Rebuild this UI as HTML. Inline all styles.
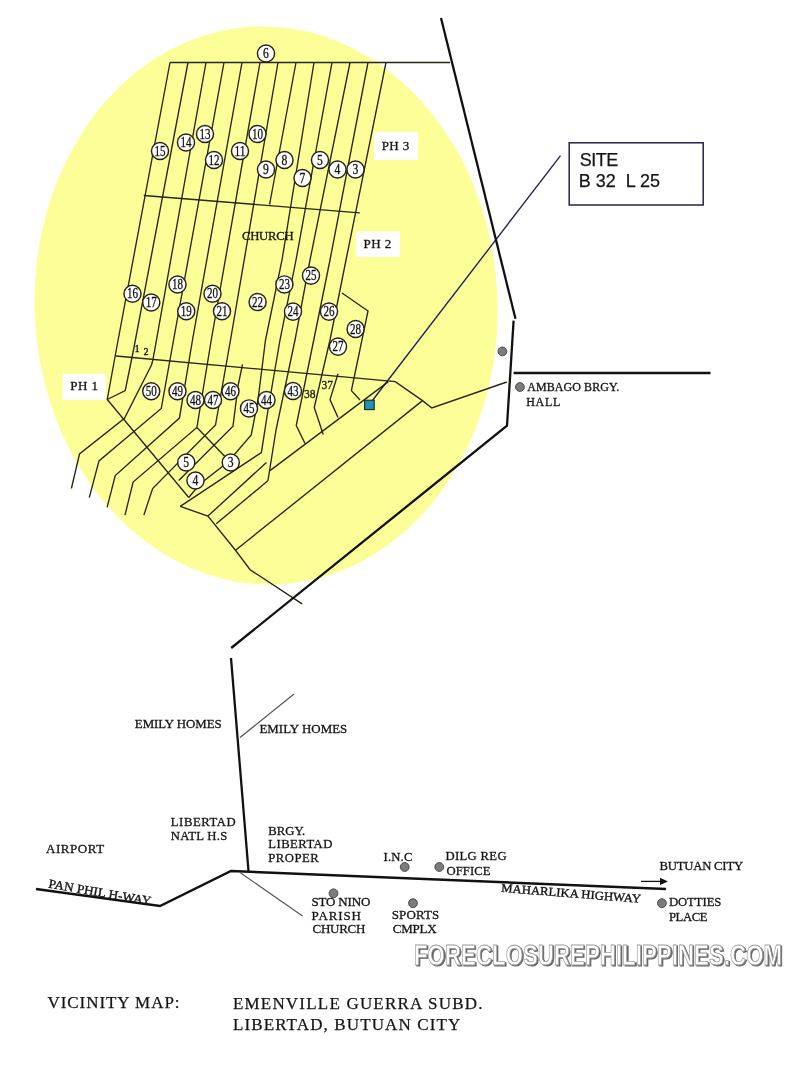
<!DOCTYPE html><html><head><meta charset="utf-8"><style>html,body{margin:0;padding:0;background:#fff;}svg{display:block;will-change:transform;}text{font-family:"Liberation Serif",serif;}</style></head><body>
<svg width="800" height="1067" viewBox="0 0 800 1067">
<rect width="800" height="1067" fill="#fff"/>
<ellipse cx="266.14" cy="305.5" rx="231.5" ry="279.15" transform="rotate(-2.3 266.14 305.5)" fill="#fcfe98"/>
<rect x="374" y="132" width="44" height="28" fill="#fff"/>
<rect x="356" y="231.5" width="44" height="25.5" fill="#fff"/>
<rect x="62.5" y="373.75" width="43.5" height="26.25" fill="#fff"/>
<polyline points="170,62.5 450,62.5" fill="none" stroke="#27260f" stroke-width="1.35" stroke-linejoin="miter"/>
<polyline points="143.75,195.5 359.75,212.9" fill="none" stroke="#27260f" stroke-width="1.35" stroke-linejoin="miter"/>
<polyline points="116,356 395.25,381.6 422.5,400.6 431.8,408 506.8,382" fill="none" stroke="#27260f" stroke-width="1.35" stroke-linejoin="miter"/>
<polyline points="170,62.5 116.25,350 107.25,399.5 188.75,497.5" fill="none" stroke="#27260f" stroke-width="1.35" stroke-linejoin="miter"/>
<polyline points="188,62.5 133.5,350 125.25,390.5 107.25,399.5" fill="none" stroke="#27260f" stroke-width="1.35" stroke-linejoin="miter"/>
<polyline points="206,62.5 153,359.3 151.5,365 124.5,418.25 79.5,454 71.4,488.5" fill="none" stroke="#27260f" stroke-width="1.35" stroke-linejoin="miter"/>
<polyline points="224,62.5 171.75,350 161.25,408.5 99,460.9 89.25,497.6" fill="none" stroke="#27260f" stroke-width="1.35" stroke-linejoin="miter"/>
<polyline points="242,62.5 192.5,340 179.4,418.1 115.25,475.5 107.1,507.3" fill="none" stroke="#27260f" stroke-width="1.35" stroke-linejoin="miter"/>
<polyline points="260,62.5 211.25,340 196.9,427.5 133.1,482 125,515.1" fill="none" stroke="#27260f" stroke-width="1.35" stroke-linejoin="miter"/>
<polyline points="196.9,427.5 230.75,462.5" fill="none" stroke="#27260f" stroke-width="1.35" stroke-linejoin="miter"/>
<polyline points="278,62.5 230.5,340 215.5,425 152.6,488.5 143.85,515.1" fill="none" stroke="#27260f" stroke-width="1.35" stroke-linejoin="miter"/>
<polyline points="296,62.5 269.6,204.5" fill="none" stroke="#27260f" stroke-width="1.35" stroke-linejoin="miter"/>
<polyline points="242.5,364.4 238,386 233,426.25 178.75,480.6" fill="none" stroke="#27260f" stroke-width="1.35" stroke-linejoin="miter"/>
<polyline points="314,62.5 282,260 265.5,340 258,400 251.25,435 228,462 200,484 188.75,497.5" fill="none" stroke="#27260f" stroke-width="1.35" stroke-linejoin="miter"/>
<polyline points="332,62.5 296,260 280,340 268,410 261.4,452.5 180.25,506.4" fill="none" stroke="#27260f" stroke-width="1.35" stroke-linejoin="miter"/>
<polyline points="350,62.5 310,260 295,340 276,430 268,480.5" fill="none" stroke="#27260f" stroke-width="1.35" stroke-linejoin="miter"/>
<polyline points="368,62.5 330,260 313.75,340 296.25,425.5 305,443.5" fill="none" stroke="#27260f" stroke-width="1.35" stroke-linejoin="miter"/>
<polyline points="386,62.5 346,260 330,340 314.25,407.5 323.25,434.5" fill="none" stroke="#27260f" stroke-width="1.35" stroke-linejoin="miter"/>
<polyline points="338,373.75 330,399.6 338,417.6" fill="none" stroke="#27260f" stroke-width="1.35" stroke-linejoin="miter"/>
<polyline points="342,293 368,311 351.4,390.6 360,400" fill="none" stroke="#27260f" stroke-width="1.35" stroke-linejoin="miter"/>
<polyline points="216.25,523.75 268.1,480.6" fill="none" stroke="#27260f" stroke-width="1.35" stroke-linejoin="miter"/>
<polyline points="270,470.6 388.1,381.9" fill="none" stroke="#27260f" stroke-width="1.35" stroke-linejoin="miter"/>
<polyline points="235.5,550.25 422.5,400.6" fill="none" stroke="#27260f" stroke-width="1.35" stroke-linejoin="miter"/>
<polyline points="266.4,462.5 207.9,516.1" fill="none" stroke="#27260f" stroke-width="1.35" stroke-linejoin="miter"/>
<polyline points="180.25,506.4 207.9,516.1 235.5,550.25 250.1,569.75 302.1,603.9" fill="none" stroke="#27260f" stroke-width="1.35" stroke-linejoin="miter"/>
<polyline points="560.5,155.6 370.5,403" fill="none" stroke="#1e1e50" stroke-width="1.35" stroke-linejoin="miter"/>
<polyline points="441,18 515.5,318.7" fill="none" stroke="#111" stroke-width="2.3" stroke-linejoin="miter"/>
<polyline points="513.6,320.6 507,425.7 231.2,648" fill="none" stroke="#111" stroke-width="2.3" stroke-linejoin="miter"/>
<polyline points="231,658 248.5,871" fill="none" stroke="#111" stroke-width="2.3" stroke-linejoin="miter"/>
<polyline points="36,889 160,906 231,871 666,889" fill="none" stroke="#111" stroke-width="2.4" stroke-linejoin="miter"/>
<polyline points="513.6,373 710.5,373" fill="none" stroke="#111" stroke-width="2.3" stroke-linejoin="miter"/>
<polyline points="240,737.5 294,694" fill="none" stroke="#555" stroke-width="1.2" stroke-linejoin="miter"/>
<polyline points="240,872.5 302.5,916" fill="none" stroke="#555" stroke-width="1.2" stroke-linejoin="miter"/>
<polyline points="641,881.4 662,881.4" fill="none" stroke="#111" stroke-width="1.3" stroke-linejoin="miter"/>
<rect x="364.6" y="400.2" width="9.6" height="9.4" fill="#2690b0" stroke="#0c2838" stroke-width="1.1"/>
<circle cx="266" cy="53.5" r="8.55" fill="#fff" stroke="#23231a" stroke-width="1.45"/>
<text x="263.10" y="58.10" font-size="14" fill="#111" stroke="#111" stroke-width="0.3" textLength="5.8" lengthAdjust="spacingAndGlyphs">6</text>
<circle cx="160" cy="151" r="8.55" fill="#fff" stroke="#23231a" stroke-width="1.45"/>
<text x="154.50" y="155.60" font-size="14" fill="#111" stroke="#111" stroke-width="0.3" textLength="11.0" lengthAdjust="spacingAndGlyphs">15</text>
<circle cx="186" cy="142.5" r="8.55" fill="#fff" stroke="#23231a" stroke-width="1.45"/>
<text x="180.50" y="147.10" font-size="14" fill="#111" stroke="#111" stroke-width="0.3" textLength="11.0" lengthAdjust="spacingAndGlyphs">14</text>
<circle cx="205" cy="134" r="8.55" fill="#fff" stroke="#23231a" stroke-width="1.45"/>
<text x="199.50" y="138.60" font-size="14" fill="#111" stroke="#111" stroke-width="0.3" textLength="11.0" lengthAdjust="spacingAndGlyphs">13</text>
<circle cx="214" cy="160" r="8.55" fill="#fff" stroke="#23231a" stroke-width="1.45"/>
<text x="208.50" y="164.60" font-size="14" fill="#111" stroke="#111" stroke-width="0.3" textLength="11.0" lengthAdjust="spacingAndGlyphs">12</text>
<circle cx="240" cy="151" r="8.55" fill="#fff" stroke="#23231a" stroke-width="1.45"/>
<text x="234.50" y="155.60" font-size="14" fill="#111" stroke="#111" stroke-width="0.3" textLength="11.0" lengthAdjust="spacingAndGlyphs">11</text>
<circle cx="257.5" cy="134" r="8.55" fill="#fff" stroke="#23231a" stroke-width="1.45"/>
<text x="252.00" y="138.60" font-size="14" fill="#111" stroke="#111" stroke-width="0.3" textLength="11.0" lengthAdjust="spacingAndGlyphs">10</text>
<circle cx="266" cy="169.5" r="8.55" fill="#fff" stroke="#23231a" stroke-width="1.45"/>
<text x="263.10" y="174.10" font-size="14" fill="#111" stroke="#111" stroke-width="0.3" textLength="5.8" lengthAdjust="spacingAndGlyphs">9</text>
<circle cx="284.5" cy="160" r="8.55" fill="#fff" stroke="#23231a" stroke-width="1.45"/>
<text x="281.60" y="164.60" font-size="14" fill="#111" stroke="#111" stroke-width="0.3" textLength="5.8" lengthAdjust="spacingAndGlyphs">8</text>
<circle cx="302.5" cy="178" r="8.55" fill="#fff" stroke="#23231a" stroke-width="1.45"/>
<text x="299.60" y="182.60" font-size="14" fill="#111" stroke="#111" stroke-width="0.3" textLength="5.8" lengthAdjust="spacingAndGlyphs">7</text>
<circle cx="320" cy="160" r="8.55" fill="#fff" stroke="#23231a" stroke-width="1.45"/>
<text x="317.10" y="164.60" font-size="14" fill="#111" stroke="#111" stroke-width="0.3" textLength="5.8" lengthAdjust="spacingAndGlyphs">5</text>
<circle cx="337.5" cy="169.5" r="8.55" fill="#fff" stroke="#23231a" stroke-width="1.45"/>
<text x="334.60" y="174.10" font-size="14" fill="#111" stroke="#111" stroke-width="0.3" textLength="5.8" lengthAdjust="spacingAndGlyphs">4</text>
<circle cx="355.5" cy="169.5" r="8.55" fill="#fff" stroke="#23231a" stroke-width="1.45"/>
<text x="352.60" y="174.10" font-size="14" fill="#111" stroke="#111" stroke-width="0.3" textLength="5.8" lengthAdjust="spacingAndGlyphs">3</text>
<circle cx="132.5" cy="293.75" r="8.55" fill="#fff" stroke="#23231a" stroke-width="1.45"/>
<text x="127.00" y="298.35" font-size="14" fill="#111" stroke="#111" stroke-width="0.3" textLength="11.0" lengthAdjust="spacingAndGlyphs">16</text>
<circle cx="151.25" cy="302.5" r="8.55" fill="#fff" stroke="#23231a" stroke-width="1.45"/>
<text x="145.75" y="307.10" font-size="14" fill="#111" stroke="#111" stroke-width="0.3" textLength="11.0" lengthAdjust="spacingAndGlyphs">17</text>
<circle cx="177.5" cy="284.5" r="8.55" fill="#fff" stroke="#23231a" stroke-width="1.45"/>
<text x="172.00" y="289.10" font-size="14" fill="#111" stroke="#111" stroke-width="0.3" textLength="11.0" lengthAdjust="spacingAndGlyphs">18</text>
<circle cx="186.25" cy="311.25" r="8.55" fill="#fff" stroke="#23231a" stroke-width="1.45"/>
<text x="180.75" y="315.85" font-size="14" fill="#111" stroke="#111" stroke-width="0.3" textLength="11.0" lengthAdjust="spacingAndGlyphs">19</text>
<circle cx="212.5" cy="293.75" r="8.55" fill="#fff" stroke="#23231a" stroke-width="1.45"/>
<text x="207.00" y="298.35" font-size="14" fill="#111" stroke="#111" stroke-width="0.3" textLength="11.0" lengthAdjust="spacingAndGlyphs">20</text>
<circle cx="222" cy="311.25" r="8.55" fill="#fff" stroke="#23231a" stroke-width="1.45"/>
<text x="216.50" y="315.85" font-size="14" fill="#111" stroke="#111" stroke-width="0.3" textLength="11.0" lengthAdjust="spacingAndGlyphs">21</text>
<circle cx="257.6" cy="302" r="8.55" fill="#fff" stroke="#23231a" stroke-width="1.45"/>
<text x="252.10" y="306.60" font-size="14" fill="#111" stroke="#111" stroke-width="0.3" textLength="11.0" lengthAdjust="spacingAndGlyphs">22</text>
<circle cx="284.4" cy="284.4" r="8.55" fill="#fff" stroke="#23231a" stroke-width="1.45"/>
<text x="278.90" y="289.00" font-size="14" fill="#111" stroke="#111" stroke-width="0.3" textLength="11.0" lengthAdjust="spacingAndGlyphs">23</text>
<circle cx="293" cy="311.6" r="8.55" fill="#fff" stroke="#23231a" stroke-width="1.45"/>
<text x="287.50" y="316.20" font-size="14" fill="#111" stroke="#111" stroke-width="0.3" textLength="11.0" lengthAdjust="spacingAndGlyphs">24</text>
<circle cx="311" cy="275.6" r="8.55" fill="#fff" stroke="#23231a" stroke-width="1.45"/>
<text x="305.50" y="280.20" font-size="14" fill="#111" stroke="#111" stroke-width="0.3" textLength="11.0" lengthAdjust="spacingAndGlyphs">25</text>
<circle cx="329" cy="311.6" r="8.55" fill="#fff" stroke="#23231a" stroke-width="1.45"/>
<text x="323.50" y="316.20" font-size="14" fill="#111" stroke="#111" stroke-width="0.3" textLength="11.0" lengthAdjust="spacingAndGlyphs">26</text>
<circle cx="338" cy="346.6" r="8.55" fill="#fff" stroke="#23231a" stroke-width="1.45"/>
<text x="332.50" y="351.20" font-size="14" fill="#111" stroke="#111" stroke-width="0.3" textLength="11.0" lengthAdjust="spacingAndGlyphs">27</text>
<circle cx="355.6" cy="329" r="8.55" fill="#fff" stroke="#23231a" stroke-width="1.45"/>
<text x="350.10" y="333.60" font-size="14" fill="#111" stroke="#111" stroke-width="0.3" textLength="11.0" lengthAdjust="spacingAndGlyphs">28</text>
<circle cx="151.25" cy="391.25" r="8.55" fill="#fff" stroke="#23231a" stroke-width="1.45"/>
<text x="145.75" y="395.85" font-size="14" fill="#111" stroke="#111" stroke-width="0.3" textLength="11.0" lengthAdjust="spacingAndGlyphs">50</text>
<circle cx="177.5" cy="391.25" r="8.55" fill="#fff" stroke="#23231a" stroke-width="1.45"/>
<text x="172.00" y="395.85" font-size="14" fill="#111" stroke="#111" stroke-width="0.3" textLength="11.0" lengthAdjust="spacingAndGlyphs">49</text>
<circle cx="195.5" cy="400" r="8.55" fill="#fff" stroke="#23231a" stroke-width="1.45"/>
<text x="190.00" y="404.60" font-size="14" fill="#111" stroke="#111" stroke-width="0.3" textLength="11.0" lengthAdjust="spacingAndGlyphs">48</text>
<circle cx="213" cy="400" r="8.55" fill="#fff" stroke="#23231a" stroke-width="1.45"/>
<text x="207.50" y="404.60" font-size="14" fill="#111" stroke="#111" stroke-width="0.3" textLength="11.0" lengthAdjust="spacingAndGlyphs">47</text>
<circle cx="230.5" cy="391.25" r="8.55" fill="#fff" stroke="#23231a" stroke-width="1.45"/>
<text x="225.00" y="395.85" font-size="14" fill="#111" stroke="#111" stroke-width="0.3" textLength="11.0" lengthAdjust="spacingAndGlyphs">46</text>
<circle cx="249" cy="408.4" r="8.55" fill="#fff" stroke="#23231a" stroke-width="1.45"/>
<text x="243.50" y="413.00" font-size="14" fill="#111" stroke="#111" stroke-width="0.3" textLength="11.0" lengthAdjust="spacingAndGlyphs">45</text>
<circle cx="266.5" cy="400" r="8.55" fill="#fff" stroke="#23231a" stroke-width="1.45"/>
<text x="261.00" y="404.60" font-size="14" fill="#111" stroke="#111" stroke-width="0.3" textLength="11.0" lengthAdjust="spacingAndGlyphs">44</text>
<circle cx="293" cy="391" r="8.55" fill="#fff" stroke="#23231a" stroke-width="1.45"/>
<text x="287.50" y="395.60" font-size="14" fill="#111" stroke="#111" stroke-width="0.3" textLength="11.0" lengthAdjust="spacingAndGlyphs">43</text>
<circle cx="186.25" cy="462.5" r="8.55" fill="#fff" stroke="#23231a" stroke-width="1.45"/>
<text x="183.35" y="467.10" font-size="14" fill="#111" stroke="#111" stroke-width="0.3" textLength="5.8" lengthAdjust="spacingAndGlyphs">5</text>
<circle cx="195.5" cy="480.5" r="8.55" fill="#fff" stroke="#23231a" stroke-width="1.45"/>
<text x="192.60" y="485.10" font-size="14" fill="#111" stroke="#111" stroke-width="0.3" textLength="5.8" lengthAdjust="spacingAndGlyphs">4</text>
<circle cx="230.75" cy="462.5" r="8.55" fill="#fff" stroke="#23231a" stroke-width="1.45"/>
<text x="227.85" y="467.10" font-size="14" fill="#111" stroke="#111" stroke-width="0.3" textLength="5.8" lengthAdjust="spacingAndGlyphs">3</text>
<circle cx="502.4" cy="351.40000000000003" r="4.4" fill="#7c7c7c" stroke="#4a4a4a" stroke-width="1.0"/>
<circle cx="519.9" cy="387.0" r="4.4" fill="#7c7c7c" stroke="#4a4a4a" stroke-width="1.0"/>
<circle cx="333.5" cy="893.3" r="4.4" fill="#7c7c7c" stroke="#4a4a4a" stroke-width="1.0"/>
<circle cx="404.7" cy="867.0" r="4.4" fill="#7c7c7c" stroke="#4a4a4a" stroke-width="1.0"/>
<circle cx="439.3" cy="867.0" r="4.4" fill="#7c7c7c" stroke="#4a4a4a" stroke-width="1.0"/>
<circle cx="413" cy="903.1999999999999" r="4.4" fill="#7c7c7c" stroke="#4a4a4a" stroke-width="1.0"/>
<circle cx="661.9" cy="903.1999999999999" r="4.4" fill="#7c7c7c" stroke="#4a4a4a" stroke-width="1.0"/>
<path d="M668,881.4 L660,877.8 L660,885 Z" fill="#111"/>
<rect x="569.2" y="142.8" width="134" height="62.2" fill="#fff" stroke="#24244c" stroke-width="1.5"/>
<text x="381.75" y="149.75" font-size="13" style="font-family:'Liberation Serif'" fill="#151515" textLength="27.51" lengthAdjust="spacing" stroke="#151515" stroke-width="0.3" xml:space="preserve">PH 3</text>
<text x="363.50" y="247.8" font-size="13" style="font-family:'Liberation Serif'" fill="#151515" textLength="27.64" lengthAdjust="spacing" stroke="#151515" stroke-width="0.3" xml:space="preserve">PH 2</text>
<text x="70.25" y="389.75" font-size="13" style="font-family:'Liberation Serif'" fill="#151515" textLength="27.82" lengthAdjust="spacing" stroke="#151515" stroke-width="0.3" xml:space="preserve">PH 1</text>
<text x="242.00" y="239.6" font-size="12.7" style="font-family:'Liberation Serif'" fill="#151515" textLength="51.62" lengthAdjust="spacing" stroke="#151515" stroke-width="0.3" xml:space="preserve">CHURCH</text>
<text x="527.20" y="391" font-size="12" style="font-family:'Liberation Serif'" fill="#151515" textLength="92.01" lengthAdjust="spacing" stroke="#151515" stroke-width="0.3" xml:space="preserve">AMBAGO BRGY.</text>
<text x="526.20" y="406" font-size="12" style="font-family:'Liberation Serif'" fill="#151515" textLength="34.13" lengthAdjust="spacing" stroke="#151515" stroke-width="0.3" xml:space="preserve">HALL</text>
<text x="134.80" y="728" font-size="12.9" style="font-family:'Liberation Serif'" fill="#151515" textLength="86.96" lengthAdjust="spacing" stroke="#151515" stroke-width="0.3" xml:space="preserve">EMILY HOMES</text>
<text x="259.40" y="732.5" font-size="12.9" style="font-family:'Liberation Serif'" fill="#151515" textLength="87.82" lengthAdjust="spacing" stroke="#151515" stroke-width="0.3" xml:space="preserve">EMILY HOMES</text>
<text x="170.75" y="826.2" font-size="12.7" style="font-family:'Liberation Serif'" fill="#151515" textLength="64.99" lengthAdjust="spacing" stroke="#151515" stroke-width="0.3" xml:space="preserve">LIBERTAD</text>
<text x="170.75" y="839.9" font-size="12.7" style="font-family:'Liberation Serif'" fill="#151515" textLength="56.48" lengthAdjust="spacing" stroke="#151515" stroke-width="0.3" xml:space="preserve">NATL H.S</text>
<text x="268.30" y="834.75" font-size="12.7" style="font-family:'Liberation Serif'" fill="#151515" textLength="36.80" lengthAdjust="spacing" stroke="#151515" stroke-width="0.3" xml:space="preserve">BRGY.</text>
<text x="268.30" y="847.8" font-size="12.7" style="font-family:'Liberation Serif'" fill="#151515" textLength="64.02" lengthAdjust="spacing" stroke="#151515" stroke-width="0.3" xml:space="preserve">LIBERTAD</text>
<text x="268.30" y="862.2" font-size="12.7" style="font-family:'Liberation Serif'" fill="#151515" textLength="50.54" lengthAdjust="spacing" stroke="#151515" stroke-width="0.3" xml:space="preserve">PROPER</text>
<text x="46.00" y="852.6" font-size="13" style="font-family:'Liberation Serif'" fill="#151515" textLength="58.13" lengthAdjust="spacing" stroke="#151515" stroke-width="0.3" xml:space="preserve">AIRPORT</text>
<text x="383.50" y="861.4" font-size="12.7" style="font-family:'Liberation Serif'" fill="#151515" textLength="28.88" lengthAdjust="spacing" stroke="#151515" stroke-width="0.3" xml:space="preserve">I.N.C</text>
<text x="445.50" y="860.3" font-size="12.7" style="font-family:'Liberation Serif'" fill="#151515" textLength="61.05" lengthAdjust="spacing" stroke="#151515" stroke-width="0.3" xml:space="preserve">DILG REG</text>
<text x="446.50" y="875.1" font-size="12.7" style="font-family:'Liberation Serif'" fill="#151515" textLength="43.93" lengthAdjust="spacing" stroke="#151515" stroke-width="0.3" xml:space="preserve">OFFICE</text>
<text x="311.50" y="906" font-size="13" style="font-family:'Liberation Serif'" fill="#151515" textLength="58.82" lengthAdjust="spacing" stroke="#151515" stroke-width="0.3" xml:space="preserve">STO NINO</text>
<text x="311.50" y="919.9" font-size="13" style="font-family:'Liberation Serif'" fill="#151515" textLength="49.38" lengthAdjust="spacing" stroke="#151515" stroke-width="0.3" xml:space="preserve">PARISH</text>
<text x="312.50" y="933.1" font-size="13" style="font-family:'Liberation Serif'" fill="#151515" textLength="52.84" lengthAdjust="spacing" stroke="#151515" stroke-width="0.3" xml:space="preserve">CHURCH</text>
<text x="391.70" y="919" font-size="13" style="font-family:'Liberation Serif'" fill="#151515" textLength="47.64" lengthAdjust="spacing" stroke="#151515" stroke-width="0.3" xml:space="preserve">SPORTS</text>
<text x="392.70" y="933.1" font-size="13" style="font-family:'Liberation Serif'" fill="#151515" textLength="43.83" lengthAdjust="spacing" stroke="#151515" stroke-width="0.3" xml:space="preserve">CMPLX</text>
<text x="659.40" y="869.75" font-size="12.7" style="font-family:'Liberation Serif'" fill="#151515" textLength="83.73" lengthAdjust="spacing" stroke="#151515" stroke-width="0.3" xml:space="preserve">BUTUAN CITY</text>
<text x="668.90" y="906" font-size="12.7" style="font-family:'Liberation Serif'" fill="#151515" textLength="52.53" lengthAdjust="spacing" stroke="#151515" stroke-width="0.3" xml:space="preserve">DOTTIES</text>
<text x="668.90" y="920.5" font-size="12.7" style="font-family:'Liberation Serif'" fill="#151515" textLength="38.72" lengthAdjust="spacing" stroke="#151515" stroke-width="0.3" xml:space="preserve">PLACE</text>
<text x="47.50" y="1008" font-size="17" style="font-family:'Liberation Serif'" fill="#151515" textLength="132.03" lengthAdjust="spacing" stroke="#151515" stroke-width="0.25" xml:space="preserve">VICINITY MAP:</text>
<text x="232.90" y="1008.5" font-size="17" style="font-family:'Liberation Serif'" fill="#151515" textLength="249.51" lengthAdjust="spacing" stroke="#151515" stroke-width="0.25" xml:space="preserve">EMENVILLE GUERRA SUBD.</text>
<text x="232.90" y="1029.5" font-size="17" style="font-family:'Liberation Serif'" fill="#151515" textLength="227.36" lengthAdjust="spacing" stroke="#151515" stroke-width="0.25" xml:space="preserve">LIBERTAD, BUTUAN CITY</text>
<text x="579.80" y="165.9" font-size="18" style="font-family:'Liberation Sans'" fill="#151515" textLength="38.49" lengthAdjust="spacing" stroke="#151515" stroke-width="0.25" xml:space="preserve">SITE</text>
<text x="578.80" y="186.6" font-size="18" style="font-family:'Liberation Sans'" fill="#151515" textLength="81.29" lengthAdjust="spacing" stroke="#151515" stroke-width="0.25" xml:space="preserve">B 32  L 25</text>
<text x="309.8" y="398.4" font-size="11.5" text-anchor="middle" fill="#151515" stroke="#151515" stroke-width="0.3">38</text>
<text x="327.3" y="389.3" font-size="11.5" text-anchor="middle" fill="#151515" stroke="#151515" stroke-width="0.3">37</text>
<text x="137" y="351.5" font-size="9.5" text-anchor="middle" fill="#151515" stroke="#151515" stroke-width="0.4">1</text>
<text x="146" y="355.2" font-size="9.5" text-anchor="middle" fill="#151515" stroke="#151515" stroke-width="0.4">2</text>
<text x="47.9" y="887.5" font-size="12.5" text-anchor="start" fill="#151515" transform="rotate(9.8 47.9 887.5)" textLength="104" lengthAdjust="spacingAndGlyphs" stroke="#151515" stroke-width="0.35">PAN PHIL H-WAY</text>
<text x="501" y="891.8" font-size="12" text-anchor="start" fill="#151515" transform="rotate(4.5 501 891.8)" textLength="140" lengthAdjust="spacingAndGlyphs" stroke="#151515" stroke-width="0.35">MAHARLIKA HIGHWAY</text>
<text transform="translate(415.3,966.3) scale(0.765,1)" x="0" y="0" font-size="29" fill="#666" stroke="#666" stroke-width="1.0" style="font-family:'Liberation Sans';font-weight:bold" textLength="481.0" lengthAdjust="spacing">FORECLOSUREPHILIPPINES.COM</text>
<text transform="translate(414,965) scale(0.765,1)" x="0" y="0" font-size="29" fill="#fff" stroke="#9a9a9a" stroke-width="0.8" style="font-family:'Liberation Sans';font-weight:bold" textLength="481.0" lengthAdjust="spacing">FORECLOSUREPHILIPPINES.COM</text>
</svg></body></html>
